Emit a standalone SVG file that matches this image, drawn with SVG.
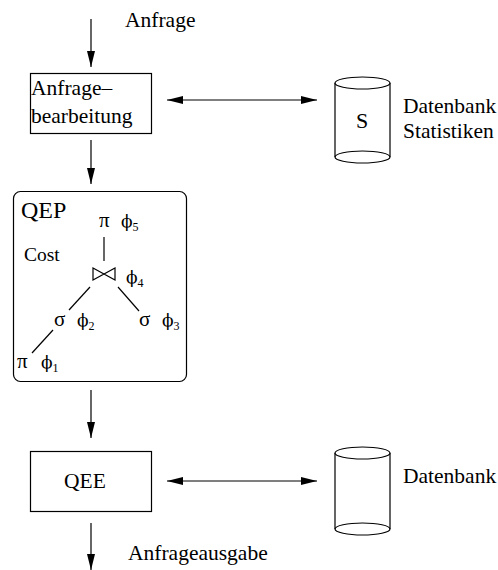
<svg xmlns="http://www.w3.org/2000/svg" width="498" height="570" viewBox="0 0 498 570" font-family="Liberation Serif, Times New Roman, serif">
<defs>
<marker id="ah" viewBox="0 0 16 8" refX="16" refY="4" markerWidth="16" markerHeight="8" markerUnits="userSpaceOnUse" orient="auto-start-reverse">
<path d="M0,0 L16,4 L0,8 Z" fill="#000"/>
</marker>
</defs>
<style>
text{font-family:"Liberation Serif","Times New Roman",serif;fill:#000}
.t{font-size:21.5px}
.g{font-size:21px}
text.p{font-family:"DejaVu Serif",serif;font-size:17px}
.s{font-family:"Liberation Serif",serif;font-size:12px}
.box{fill:#fff;stroke:#000;stroke-width:1.2}
.ln{stroke:#000;stroke-width:1.2;fill:none}
.cy{fill:#fff;stroke:#000;stroke-width:1.2}
</style>
<rect width="498" height="570" fill="#fff"/>
<g id="connectors">
<line class="ln" x1="91" y1="19" x2="91" y2="67" marker-end="url(#ah)"/>
<line class="ln" x1="91" y1="140" x2="91" y2="184" marker-end="url(#ah)"/>
<line class="ln" x1="167" y1="100" x2="317" y2="100" marker-start="url(#ah)" marker-end="url(#ah)"/>
<line class="ln" x1="91" y1="390" x2="91" y2="438" marker-end="url(#ah)"/>
<line class="ln" x1="167" y1="481" x2="317" y2="481" marker-start="url(#ah)" marker-end="url(#ah)"/>
<line class="ln" x1="91" y1="523" x2="91" y2="570" marker-end="url(#ah)"/>
</g>
<g id="label-anfrage"><text class="t" x="125" y="27">Anfrage</text></g>
<g id="anfragebearbeitung">
<rect class="box" x="30.5" y="73.5" width="121" height="60"/>
<text class="t" x="31" y="95">Anfrage–</text>
<text class="t" x="31" y="123">bearbeitung</text>
</g>
<g id="statistiken">
<path class="cy" d="M335,83 L335,157 A27.5,6 0 0 0 390,157 L390,83"/>
<path class="ln" d="M335,157 A27.5,6 0 0 1 390,157"/>
<ellipse class="cy" cx="362.5" cy="83" rx="27.5" ry="6"/>
<text x="362" y="128" font-size="22" text-anchor="middle">S</text>
<text class="t" x="403" y="113">Datenbank</text>
<text class="t" x="403" y="138">Statistiken</text>
</g>
<g id="qep">
<rect class="box" x="13.5" y="191.5" width="173" height="190" rx="7"/>
<text x="21" y="218" font-size="24">QEP</text>
<text x="24" y="261" font-size="19.5">Cost</text>
<line class="ln" x1="104" y1="237" x2="104" y2="261"/>
<line class="ln" x1="90" y1="287" x2="69" y2="310"/>
<line class="ln" x1="118" y1="287" x2="139" y2="311"/>
<line class="ln" x1="53" y1="330" x2="32" y2="353"/>
<path class="ln" d="M93,268 L115,280 L115,268 L93,280 Z"/>
<text class="g" x="99" y="227">π</text>
<text class="p" x="121" y="227">ϕ<tspan class="s" dy="4">5</tspan></text>
<text class="p" x="126" y="283">ϕ<tspan class="s" dy="4">4</tspan></text>
<text class="g" x="54" y="326">σ</text>
<text class="p" x="77" y="326">ϕ<tspan class="s" dy="4">2</tspan></text>
<text class="g" x="139" y="326">σ</text>
<text class="p" x="162" y="326">ϕ<tspan class="s" dy="4">3</tspan></text>
<text class="g" x="17" y="368">π</text>
<text class="p" x="41" y="368">ϕ<tspan class="s" dy="4">1</tspan></text>
</g>
<g id="qee">
<rect class="box" x="30.5" y="451.5" width="121" height="60"/>
<text class="t" x="85" y="488" text-anchor="middle">QEE</text>
</g>
<g id="datenbank">
<path class="cy" d="M335,453 L335,529 A27.5,6 0 0 0 390,529 L390,453"/>
<path class="ln" d="M335,529 A27.5,6 0 0 1 390,529"/>
<ellipse class="cy" cx="362.5" cy="453" rx="27.5" ry="6"/>
<text class="t" x="403" y="483">Datenbank</text>
</g>
<g id="label-ausgabe"><text class="t" x="128" y="560">Anfrageausgabe</text></g>
</svg>
